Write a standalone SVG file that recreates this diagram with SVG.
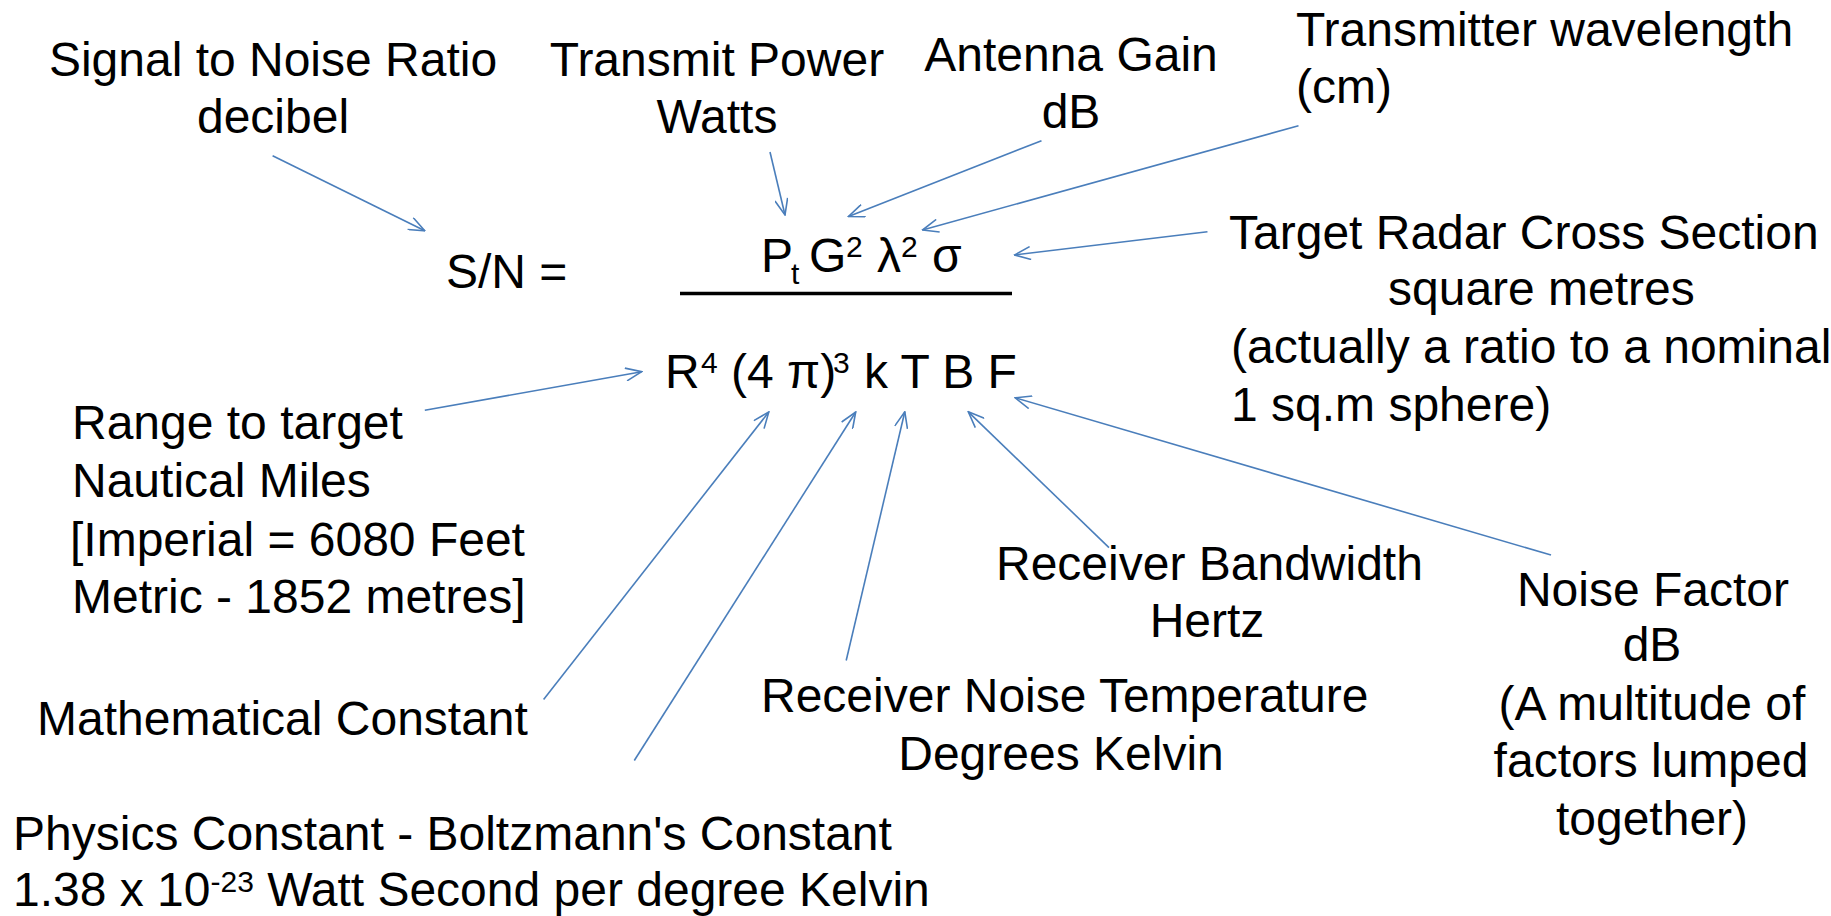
<svg xmlns="http://www.w3.org/2000/svg" width="1831" height="916" viewBox="0 0 1831 916">
<defs>
<marker id="ah" viewBox="0 0 18 14" refX="17" refY="7" markerWidth="18" markerHeight="14" markerUnits="userSpaceOnUse" orient="auto">
<path d="M1,0.5 L17,7 L1,13.5" fill="none" stroke="#4a7ebb" stroke-width="1.6"/>
</marker>
</defs>
<style>
text{font-family:"Liberation Sans",Arial,sans-serif;font-size:48px;fill:#000}
.m{text-anchor:middle}
.sup{font-size:30px}
.c{stroke:#4a7ebb;stroke-width:1.6;fill:none;marker-end:url(#ah)}
</style>
<rect width="1831" height="916" fill="#fff"/>
<g id="equation">
<text x="446" y="288">S/N =</text>
<text y="272"><tspan x="761">P</tspan><tspan x="791" y="284" class="sup">t</tspan><tspan x="809" y="272">G</tspan><tspan x="846" y="257" class="sup">2</tspan><tspan x="877" y="272">λ</tspan><tspan x="901" y="257" class="sup">2</tspan><tspan x="932" y="272">σ</tspan></text>
<line x1="680" y1="293.5" x2="1012" y2="293.5" stroke="#000" stroke-width="3.5"/>
<text y="388"><tspan x="665">R</tspan><tspan x="701" y="373" class="sup">4</tspan><tspan x="731" y="388">(4 π)</tspan><tspan x="833" y="373" class="sup">3</tspan><tspan x="864" y="388">k T B F</tspan></text>
</g>
<g id="snr"><text class="m" x="273" y="76">Signal to Noise Ratio</text><text class="m" x="273" y="133">decibel</text></g>
<g id="power"><text class="m" x="717" y="76">Transmit Power</text><text class="m" x="717" y="133">Watts</text></g>
<g id="gain"><text class="m" x="1071" y="71">Antenna Gain</text><text class="m" x="1071" y="128">dB</text></g>
<g id="wavelength"><text x="1296" y="46">Transmitter wavelength</text><text x="1296" y="103">(cm)</text></g>
<g id="rcs"><text x="1229" y="249">Target Radar Cross Section</text><text x="1388" y="305">square metres</text><text x="1231" y="363">(actually a ratio to a nominal</text><text x="1231" y="421">1 sq.m sphere)</text></g>
<g id="range"><text x="72" y="439">Range to target</text><text x="72" y="497">Nautical Miles</text><text x="70" y="556">[Imperial = 6080 Feet</text><text x="72" y="613">Metric - 1852 metres]</text></g>
<g id="math"><text x="37" y="735">Mathematical Constant</text></g>
<g id="physics"><text x="13" y="850">Physics Constant - Boltzmann's Constant</text><text x="13" y="906">1.38 x 10<tspan class="sup" dy="-14">-23</tspan><tspan dy="14"> Watt Second per degree Kelvin</tspan></text></g>
<g id="temperature"><text x="761" y="712">Receiver Noise Temperature</text><text class="m" x="1061" y="770">Degrees Kelvin</text></g>
<g id="bandwidth"><text x="996" y="580">Receiver Bandwidth</text><text class="m" x="1207" y="637">Hertz</text></g>
<g id="noisefactor"><text class="m" x="1653" y="606">Noise Factor</text><text class="m" x="1652" y="661">dB</text><text class="m" x="1652" y="720">(A multitude of</text><text class="m" x="1651" y="777">factors lumped</text><text class="m" x="1652" y="835">together)</text></g>
<g id="connectors">
<line class="c" x1="272.6" y1="155.7" x2="424.8" y2="230.7"/>
<line class="c" x1="770" y1="152" x2="785" y2="215"/>
<line class="c" x1="1041.5" y1="140.7" x2="848.5" y2="216.5"/>
<line class="c" x1="1298.5" y1="125.7" x2="922.5" y2="230"/>
<line class="c" x1="1207.5" y1="231.7" x2="1014.5" y2="255"/>
<line class="c" x1="424.8" y1="410.3" x2="641.7" y2="371.7"/>
<line class="c" x1="543.6" y1="699.4" x2="768.8" y2="412"/>
<line class="c" x1="634.3" y1="760.5" x2="855.7" y2="412"/>
<line class="c" x1="846.2" y1="660.5" x2="904.8" y2="411.8"/>
<line class="c" x1="1109" y1="547.6" x2="968.3" y2="411.8"/>
<line class="c" x1="1551" y1="555.1" x2="1015.2" y2="397.8"/>
</g>
</svg>
